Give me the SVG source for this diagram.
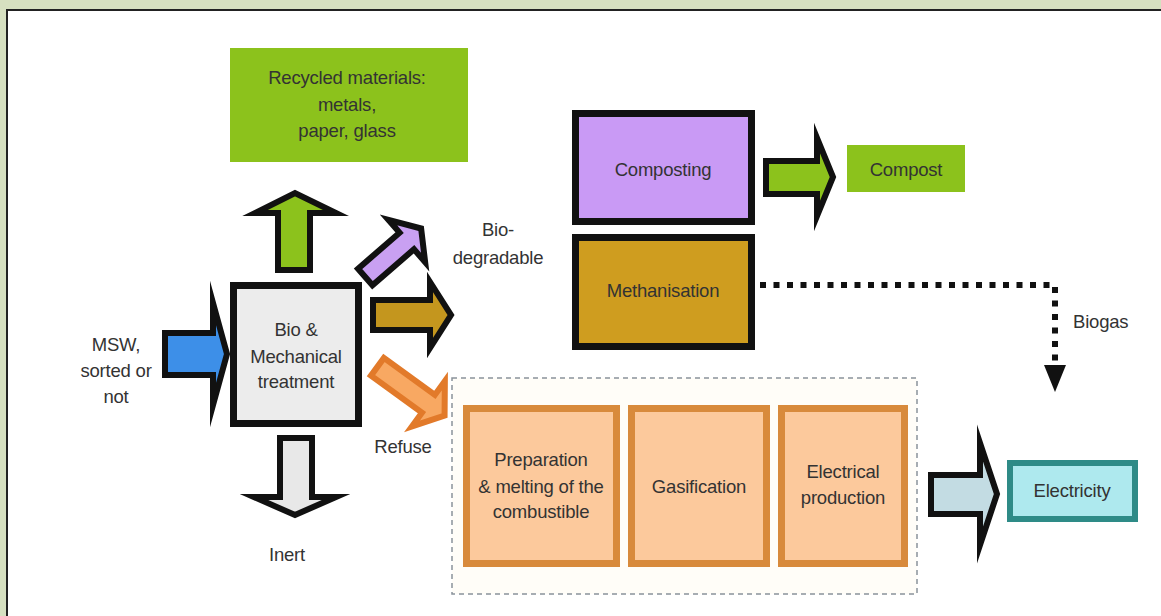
<svg xmlns="http://www.w3.org/2000/svg" width="1161" height="616" viewBox="0 0 1161 616">
<defs>
<style>
text{font-family:"Liberation Sans",Arial,sans-serif;font-size:18.5px;text-anchor:middle;fill:#333;letter-spacing:-0.2px}
.arr{stroke:#111;stroke-width:6;stroke-linejoin:miter;stroke-miterlimit:10}
.box{stroke:#111;stroke-width:7}
.obox{fill:#fcc99c;stroke:#d88a3c;stroke-width:7}
</style>
</defs>
<rect x="0" y="0" width="1161" height="616" fill="#d6e0c0"/>
<rect x="7" y="10" width="1170" height="630" fill="#fff" stroke="#222" stroke-width="2"/>

<g id="connectors">
<polygon class="arr" fill="#3d8fe8" points="165,333 213,333 213,303 227,354 213,405 213,375 165,375"/>
<polygon class="arr" fill="#8cc21c" points="278,270 278,213 255,213 295,193 336,213 310,213 310,270"/>
<polygon class="arr" fill="#e8e8e8" points="280,438 312,438 312,497 336,497 295,515 254,497 280,497"/>
<g transform="translate(363,279) rotate(-41)">
<polygon class="arr" fill="#c9a0f2" points="3,-11 58,-11 58,-28 77,0 58,28 58,11 3,11"/>
</g>
<polygon class="arr" fill="#c4961e" points="373,300 430,300 430,282 451,315 430,348 430,330 373,330"/>
<g transform="translate(375,365) rotate(36)">
<polygon fill="#f8a862" stroke="#e27a2a" stroke-width="6" stroke-linejoin="miter" stroke-miterlimit="10" points="3,-11 66,-11 66,-28 86,0 66,28 66,11 3,11"/>
</g>
<polygon class="arr" fill="#8cc21c" points="766,161 817,161 817,138 833,177 817,216 817,194 766,194"/>
<polygon class="arr" fill="#c3dce3" points="931,475 980,475 980,443 997,494 980,545 980,514 931,514"/>
<path d="M760 285 H1055 V362" fill="none" stroke="#111" stroke-width="6" stroke-dasharray="6 7.5"/>
<polygon fill="#111" points="1044,365 1066,365 1055,392"/>
</g>

<g id="msw">
<text x="116" y="351">MSW,</text>
<text x="116" y="377">sorted or</text>
<text x="116" y="403">not</text>
</g>

<g id="bmt">
<rect class="box" x="233.5" y="285.5" width="125" height="138" fill="#ececec"/>
<text x="296" y="336">Bio &amp;</text>
<text x="296" y="363">Mechanical</text>
<text x="296" y="388">treatment</text>
</g>

<g id="recycled">
<rect x="230" y="48" width="238" height="114" fill="#8cc21c"/>
<text x="347" y="84" fill="#3b5a12">Recycled materials:</text>
<text x="347" y="111" fill="#3b5a12">metals,</text>
<text x="347" y="137" fill="#3b5a12">paper, glass</text>
</g>

<g id="inert"><text x="287" y="561">Inert</text></g>
<g id="refuse"><text x="403" y="453">Refuse</text></g>
<g id="biodeg">
<text x="498" y="236">Bio-</text>
<text x="498" y="264">degradable</text>
</g>

<g id="composting">
<rect class="box" x="575.5" y="113.5" width="176" height="108" fill="#c99af5"/>
<text x="663" y="176" fill="#4e2a6e">Composting</text>
</g>

<g id="methanisation">
<rect class="box" x="575.5" y="237.5" width="176" height="109" fill="#cf9d1f"/>
<text x="663" y="297" fill="#3a2a08">Methanisation</text>
</g>

<g id="compost">
<rect x="847" y="145" width="118" height="47" fill="#8cc21c"/>
<text x="906" y="176" fill="#2f5a0a">Compost</text>
</g>

<g id="biogas"><text x="1073" y="328" style="text-anchor:start">Biogas</text></g>

<g id="process">
<rect x="452" y="378" width="465" height="216" fill="#fffdf8" stroke="#8a929a" stroke-width="1.5" stroke-dasharray="5 4"/>
</g>

<g id="prep">
<rect class="obox" x="466.5" y="408.5" width="150" height="155"/>
<text x="541" y="466" fill="#3e2c1e">Preparation</text>
<text x="541" y="493" fill="#3e2c1e">&amp; melting of the</text>
<text x="541" y="518" fill="#3e2c1e">combustible</text>
</g>

<g id="gasification">
<rect class="obox" x="631.5" y="408.5" width="135" height="155"/>
<text x="699" y="493" fill="#3e2c1e">Gasification</text>
</g>

<g id="electrical">
<rect class="obox" x="781.5" y="408.5" width="123" height="155"/>
<text x="843" y="478" fill="#3e2c1e">Electrical</text>
<text x="843" y="504" fill="#3e2c1e">production</text>
</g>

<g id="electricity">
<rect x="1010" y="463" width="125" height="56" fill="#aee9ee" stroke="#2e8b87" stroke-width="6"/>
<text x="1072" y="497">Electricity</text>
</g>
</svg>
